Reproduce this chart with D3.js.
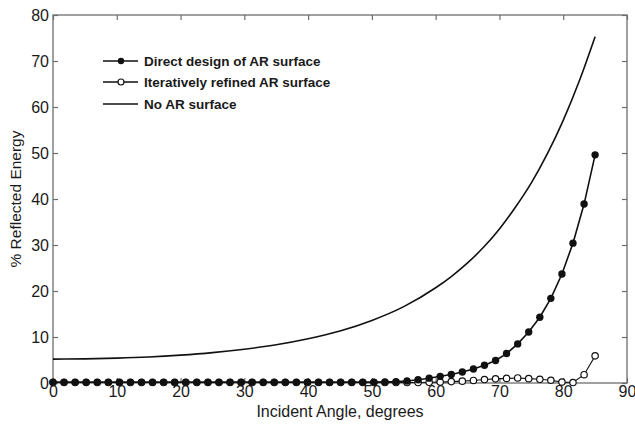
<!DOCTYPE html>
<html>
<head>
<meta charset="utf-8">
<script src="https://cdn.jsdelivr.net/npm/d3@7"></script>
<style>
  html, body { margin: 0; padding: 0; background: #fff; }
  svg { display: block; font-family: "Liberation Sans", Arial, Helvetica, sans-serif; }
</style>
</head>
<body>
<svg id="chart" width="635" height="424"></svg>
<script>
// ---- data ----
const angles = [0, 1.73, 3.47, 5.20, 6.94, 8.67, 10.41, 12.14, 13.88, 15.61,
  17.35, 19.08, 20.82, 22.55, 24.29, 26.02, 27.76, 29.49, 31.22, 32.96,
  34.69, 36.43, 38.16, 39.90, 41.63, 43.37, 45.10, 46.84, 48.57, 50.31,
  52.04, 53.78, 55.51, 57.24, 58.98, 60.71, 62.45, 64.18, 65.92, 67.65,
  69.39, 71.12, 72.86, 74.59, 76.33, 78.06, 79.80, 81.53, 83.27, 85.00];

const directDesign = [0.2, 0.2, 0.2, 0.2, 0.2, 0.2, 0.2, 0.2, 0.2, 0.2,
  0.2, 0.2, 0.2, 0.2, 0.2, 0.2, 0.2, 0.2, 0.2, 0.2,
  0.2, 0.2, 0.2, 0.2, 0.2, 0.2, 0.2, 0.2, 0.2, 0.2,
  0.25, 0.3, 0.45, 0.7, 1.05, 1.45, 1.85, 2.4, 3.05, 3.85,
  4.9, 6.4, 8.5, 11.1, 14.3, 18.4, 23.7, 30.4, 38.9, 49.6];

const iterativelyRefined = [0.1, 0.1, 0.1, 0.1, 0.1, 0.1, 0.1, 0.1, 0.1, 0.1,
  0.1, 0.1, 0.1, 0.1, 0.1, 0.1, 0.1, 0.1, 0.1, 0.1,
  0.1, 0.1, 0.1, 0.1, 0.1, 0.1, 0.1, 0.1, 0.1, 0.1,
  0.1, 0.1, 0.1, 0.1, 0.15, 0.2, 0.3, 0.4, 0.55, 0.75,
  0.9, 1.0, 1.1, 0.95, 0.8, 0.6, 0.2, 0.1, 1.8, 5.9];

const noArAngles = [0, 5, 10, 15, 20, 25, 30, 35, 40, 45, 50, 55, 60, 62.5, 65, 67.5, 70, 72.5, 75, 77.5, 80, 82.5, 85];
const noArValues = [5.2, 5.25, 5.4, 5.65, 6.05, 6.6, 7.35, 8.3, 9.6, 11.3, 13.6, 16.6, 20.7, 23.2, 26.1, 29.5, 33.5, 38.2, 43.5, 49.8, 57.1, 65.6, 75.3];

const xTicks = [0, 10, 20, 30, 40, 50, 60, 70, 80, 90];
const yTicks = [0, 10, 20, 30, 40, 50, 60, 70, 80];

const legendLabels = ["Direct design of AR surface", "Iteratively refined AR surface", "No AR surface"];
const xTitle = "Incident Angle, degrees";
const yTitle = "% Reflected Energy";

// ---- layout ----
const svg = d3.select("#chart");
const L = 53, R = 627, T = 15, B = 383;
const x = d3.scaleLinear().domain([0, 90]).range([L, R]);
const y = d3.scaleLinear().domain([0, 80]).range([B, T]);

const axisColor = "#6e6e6e";
const textColor = "#1a1a1a";
const ink = "#111";

// frame
svg.append("rect").attr("x", L).attr("y", T).attr("width", R - L).attr("height", B - T)
  .attr("fill", "none").attr("stroke", axisColor).attr("stroke-width", 1.3);

// axes (inward ticks)
const gx = svg.append("g").attr("transform", `translate(0,${B})`)
  .call(d3.axisBottom(x).tickValues(xTicks).tickSize(-5).tickPadding(3).tickFormat(d3.format("d")));
const gxTop = svg.append("g").attr("transform", `translate(0,${T})`)
  .call(d3.axisTop(x).tickValues(xTicks).tickSize(-5).tickFormat(""));
const gy = svg.append("g").attr("transform", `translate(${L},0)`)
  .call(d3.axisLeft(y).tickValues(yTicks).tickSize(-5).tickPadding(4).tickFormat(d3.format("d")));
const gyR = svg.append("g").attr("transform", `translate(${R},0)`)
  .call(d3.axisRight(y).tickValues(yTicks).tickSize(-5).tickFormat(""));

[gx, gxTop, gy, gyR].forEach(g => {
  g.select(".domain").remove();
  g.selectAll(".tick line").attr("stroke", axisColor).attr("stroke-width", 1.2);
  g.selectAll(".tick text").attr("fill", textColor).style("font-size", "16px");
});

// titles
svg.append("text").attr("x", (L + R) / 2).attr("y", 417).attr("text-anchor", "middle")
  .attr("fill", textColor).style("font-size", "16px").text(xTitle);
svg.append("text").attr("transform", `translate(21,${(T + B) / 2}) rotate(-90)`)
  .attr("text-anchor", "middle").attr("fill", textColor).style("font-size", "15.5px").text(yTitle);

// No AR line
const lineNoAr = d3.line().x((d, i) => x(noArAngles[i])).y(d => y(d)).curve(d3.curveMonotoneX);
svg.append("path").datum(noArValues).attr("d", lineNoAr)
  .attr("fill", "none").attr("stroke", ink).attr("stroke-width", 1.6);

const lineS = d3.line().x((d, i) => x(angles[i])).y(d => y(d));

// Iteratively refined (open circles)
svg.append("path").datum(iterativelyRefined).attr("d", lineS)
  .attr("fill", "none").attr("stroke", ink).attr("stroke-width", 1.1);
svg.append("g").selectAll("circle").data(iterativelyRefined).join("circle")
  .attr("cx", (d, i) => x(angles[i])).attr("cy", d => y(d)).attr("r", 3.2)
  .attr("fill", "#fff").attr("stroke", ink).attr("stroke-width", 1.2);

// Direct design (filled)
svg.append("path").datum(directDesign).attr("d", lineS)
  .attr("fill", "none").attr("stroke", ink).attr("stroke-width", 1.6);
svg.append("g").selectAll("circle").data(directDesign).join("circle")
  .attr("cx", (d, i) => x(angles[i])).attr("cy", d => y(d)).attr("r", 3.7)
  .attr("fill", ink);

// legend
const lg = svg.append("g");
const rows = [61, 82, 104];
legendLabels.forEach((lab, i) => {
  const yy = rows[i];
  lg.append("line").attr("x1", 103).attr("x2", 138).attr("y1", yy).attr("y2", yy)
    .attr("stroke", ink).attr("stroke-width", i === 2 ? 1.6 : 1.4);
  if (i === 0) lg.append("circle").attr("cx", 121).attr("cy", yy).attr("r", 3.2).attr("fill", ink);
  if (i === 1) lg.append("circle").attr("cx", 121).attr("cy", yy).attr("r", 3).attr("fill", "#fff")
    .attr("stroke", ink).attr("stroke-width", 1.2);
  lg.append("text").attr("x", 144).attr("y", yy + 5).attr("fill", textColor)
    .style("font-size", "13.5px").style("font-weight", "bold").text(lab);
});
</script>
</body>
</html>
